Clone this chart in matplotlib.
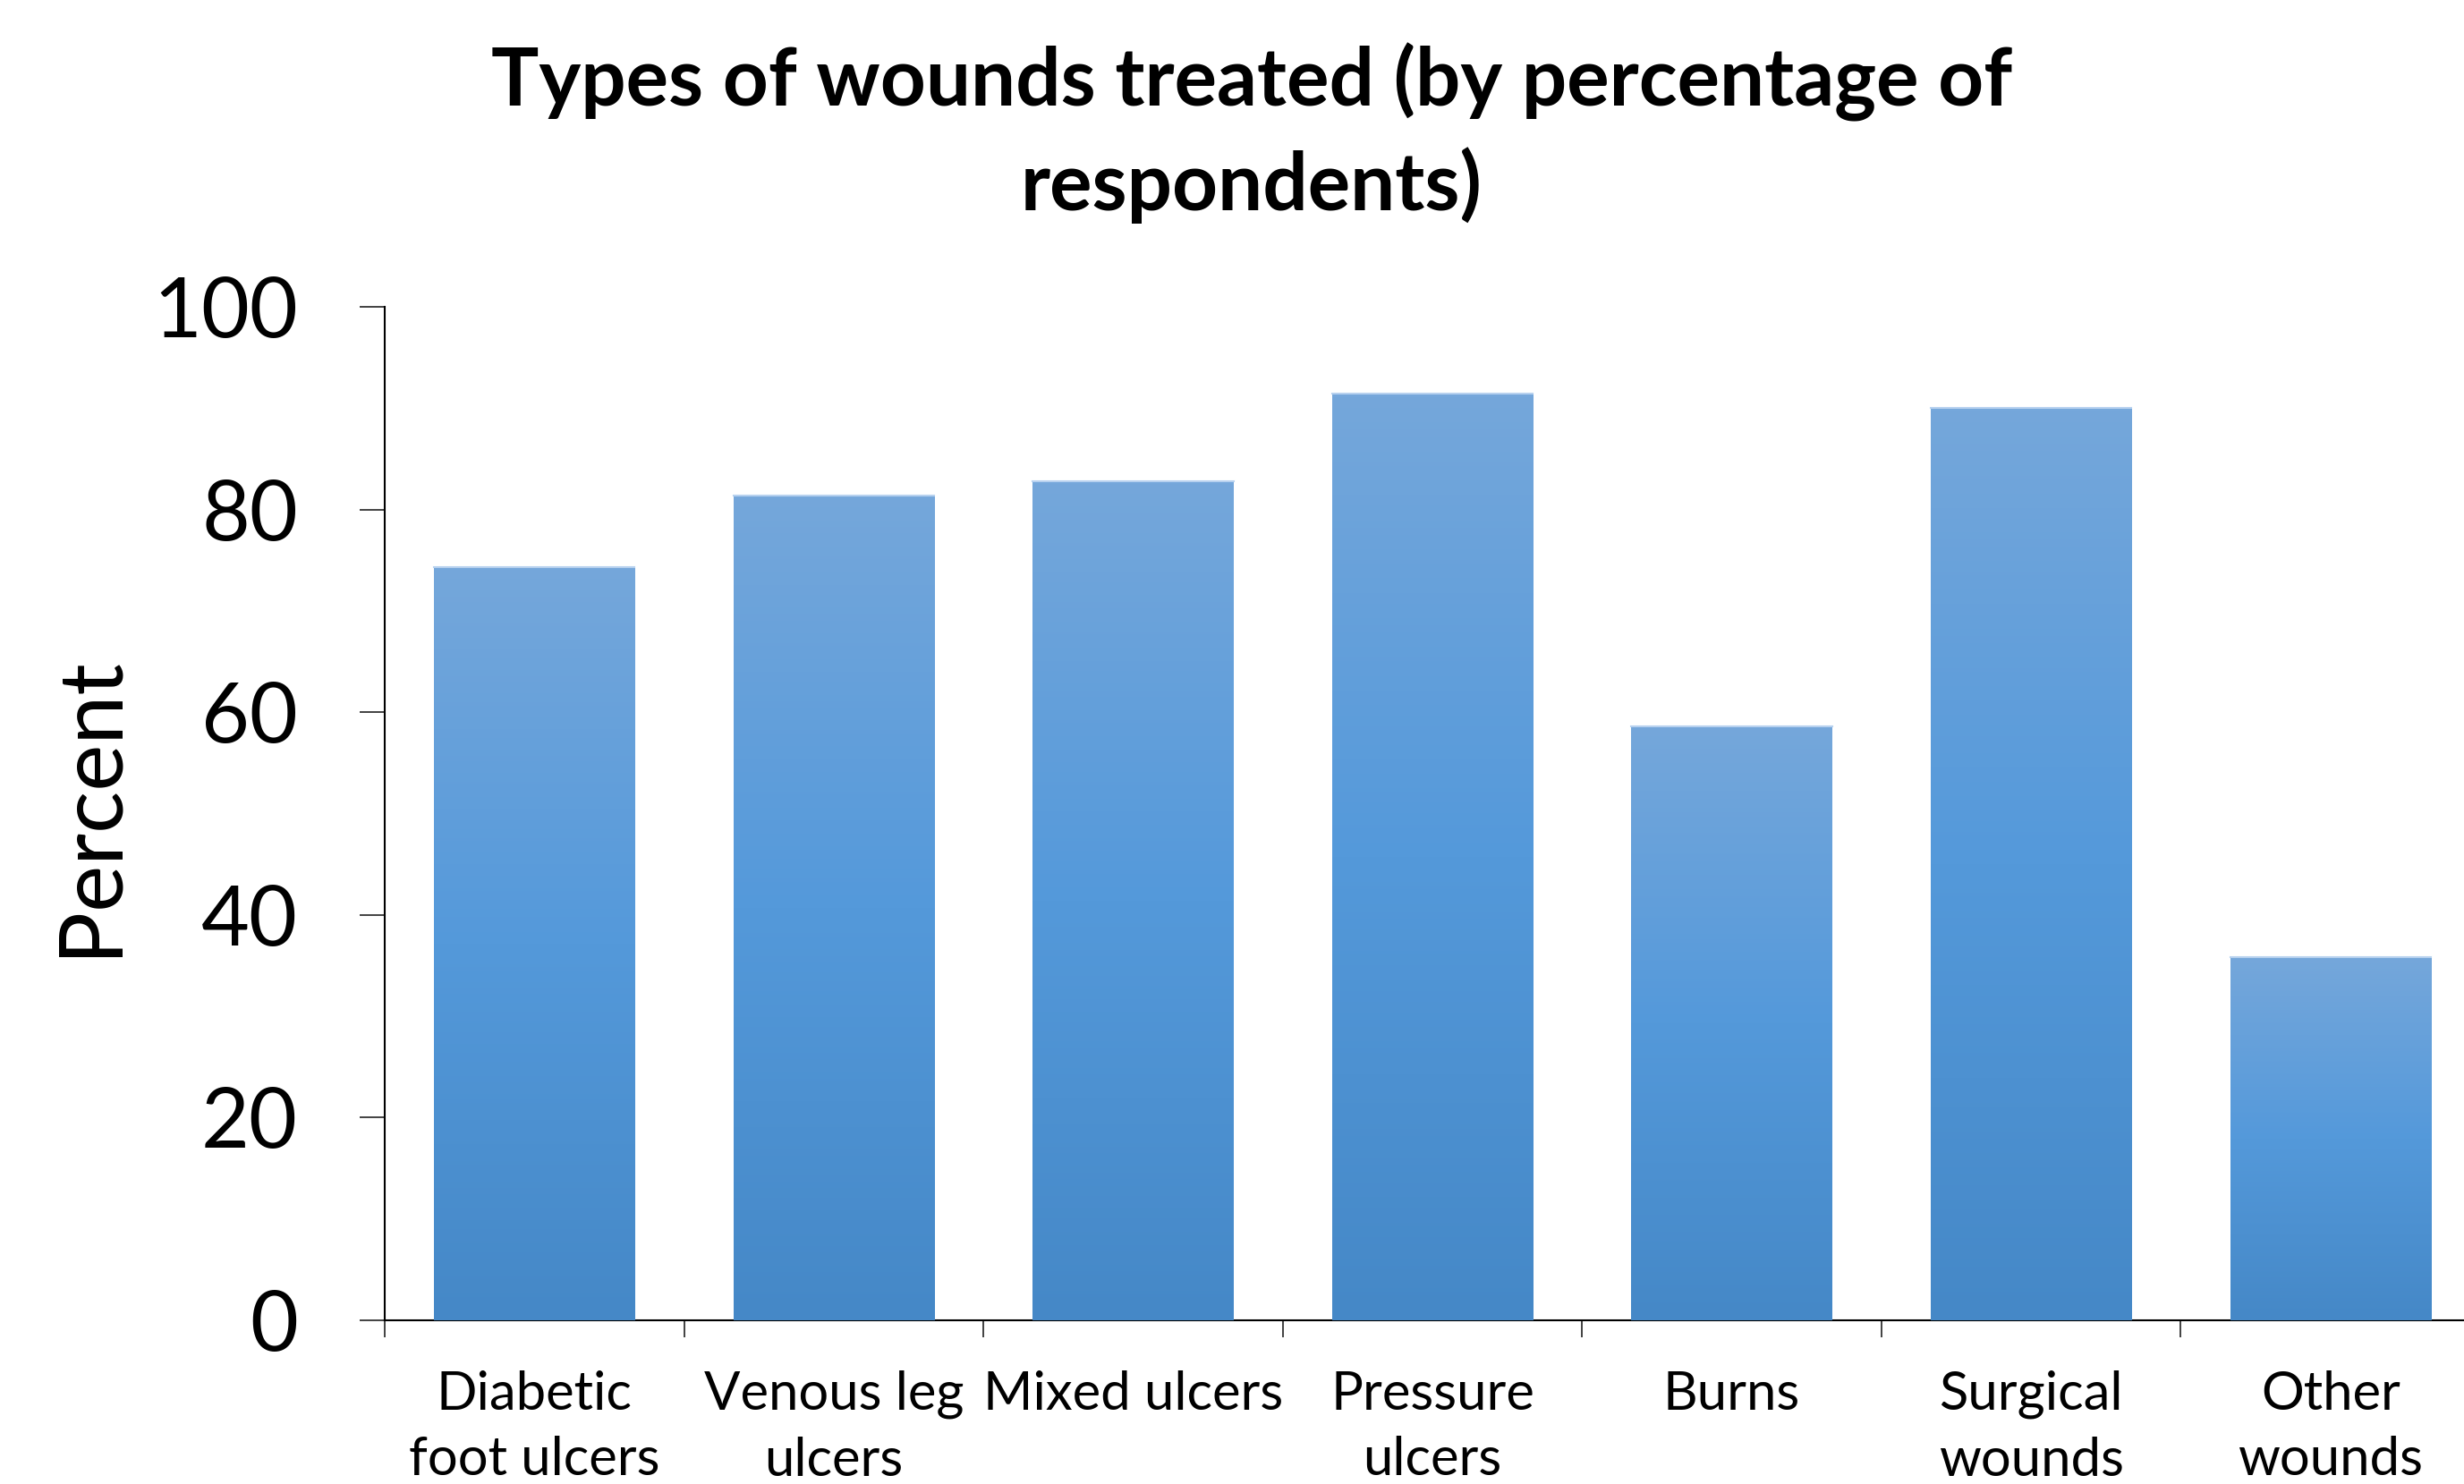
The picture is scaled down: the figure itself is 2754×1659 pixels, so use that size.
import numpy as np
import matplotlib
matplotlib.use("Agg")
import matplotlib.pyplot as plt
from matplotlib.colors import LinearSegmentedColormap

categories = ["Diabetic\nfoot ulcers", "Venous leg\nulcers", "Mixed ulcers",
              "Pressure\nulcers", "Burns", "Surgical\nwounds", "Other\nwounds"]
percent = [74.3, 81.4, 82.8, 91.4, 58.6, 90.0, 35.8]
y_ticks = [0, 20, 40, 60, 80, 100]

plt.rcParams["font.family"] = ["Lato", "DejaVu Sans"]

fig = plt.figure(figsize=(27.54, 16.59), dpi=100)
ax = fig.add_axes([430 / 2754, 0.1103, (2772 - 430) / 2754, 0.683])

# gradient fill, light at the top of each bar, darker at the bottom
grad = LinearSegmentedColormap.from_list(
    "bar", ["#4588c7", "#5499da", "#75a7db"])
g = np.linspace(0, 1, 256).reshape(-1, 1)

x = np.arange(len(categories))
bars = ax.bar(x, percent, width=0.67, color="#5599db", linewidth=0, zorder=2)
for b in bars:
    x0, w, h = b.get_x(), b.get_width(), b.get_height()
    im = ax.imshow(g, cmap=grad, aspect="auto", origin="lower",
                   extent=[x0, x0 + w, 0, h], zorder=3)
    im.set_clip_path(b)
    ax.plot([x0, x0 + w], [h, h], color="#b7d1ef", lw=1.5, zorder=4)

ax.set_xlim(-0.5, len(categories) - 0.5)
ax.set_ylim(0, 100)

for side in ["top", "right"]:
    ax.spines[side].set_visible(False)
ax.spines["left"].set_linewidth(1.5)
ax.spines["bottom"].set_linewidth(1.5)

ax.set_yticks(y_ticks)
ax.tick_params(axis="y", length=20, width=1.3, direction="out", pad=50,
               labelsize=67, color="#333333")

# category boundaries get the ticks, centres get the labels
ax.set_xticks(np.arange(len(categories)) - 0.5)
ax.set_xticklabels([])
ax.set_xticks(x, minor=True)
ax.set_xticklabels(categories, minor=True, fontsize=43, linespacing=1.45)
ax.tick_params(axis="x", which="major", length=14, width=1.3, direction="out",
               color="#333333")
ax.tick_params(axis="x", which="minor", length=0, pad=40)

fig.text(100 / 2754, 1 - 901 / 1659, "Percent", rotation=90,
         ha="center", va="center", fontsize=71)

fig.text(0.508, 1 - 48 / 1659, "Types of wounds treated (by percentage of\nrespondents)",
         ha="center", va="top", fontsize=64, fontweight="bold", linespacing=1.39)

plt.savefig("out.png", dpi=100)
